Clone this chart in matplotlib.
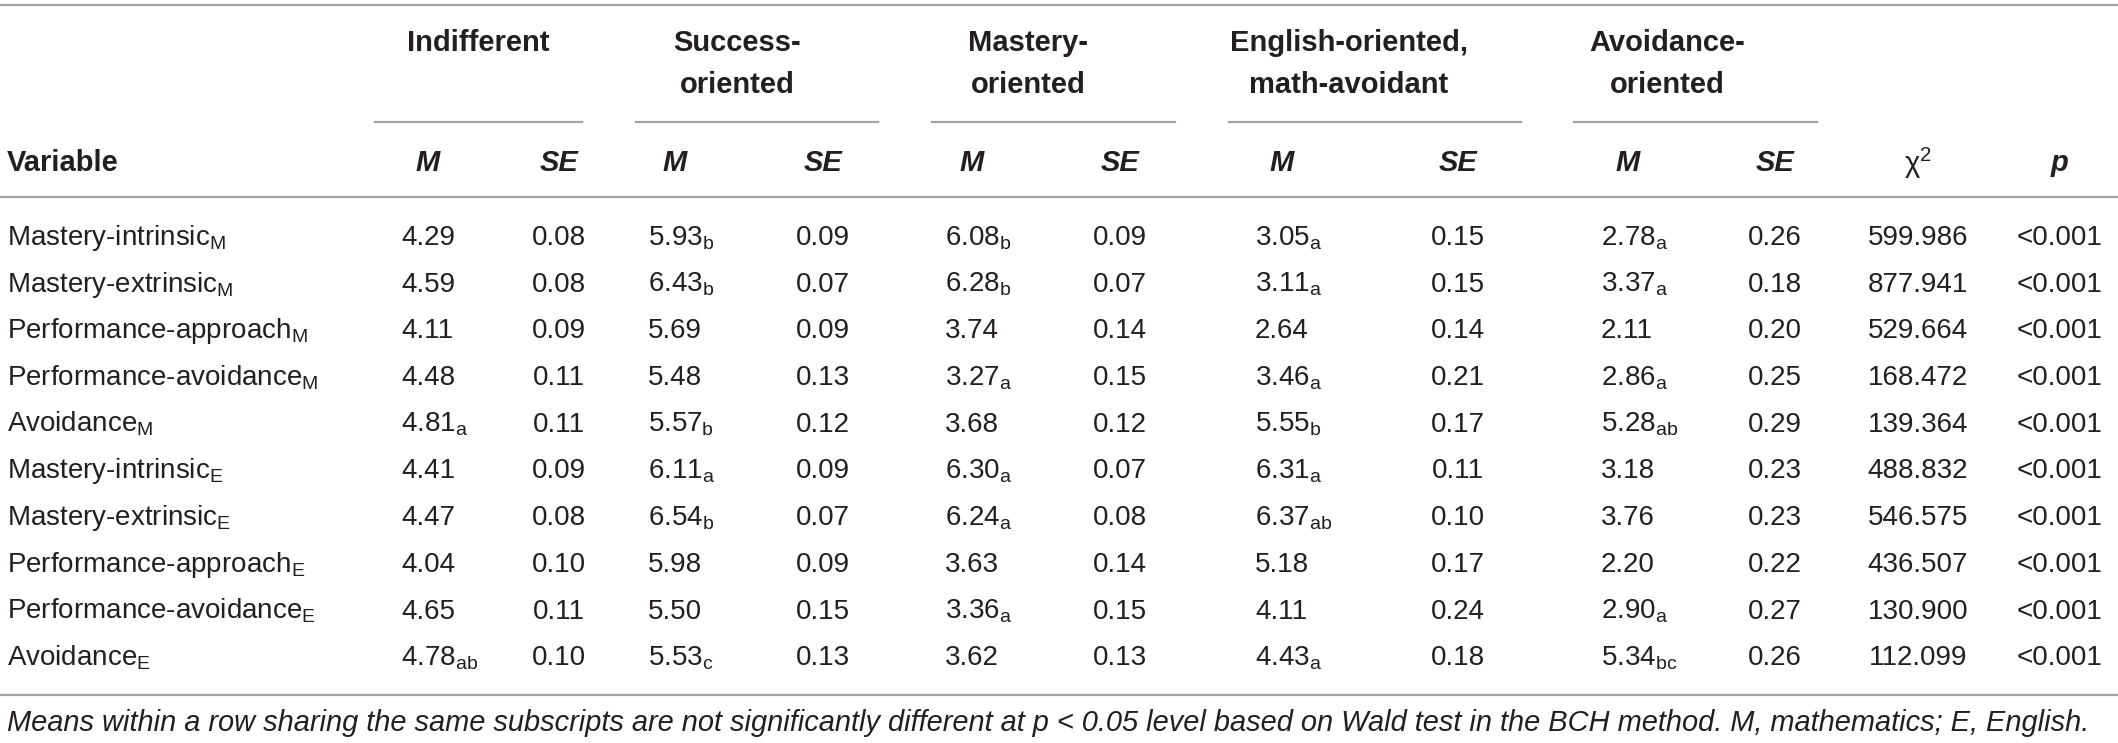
import matplotlib
matplotlib.use('Agg')
import matplotlib.pyplot as plt

plt.rcParams['font.family'] = ['Liberation Sans', 'DejaVu Sans']
plt.rcParams['mathtext.fontset'] = 'custom'
plt.rcParams['mathtext.rm'] = 'Liberation Sans'
plt.rcParams['mathtext.it'] = 'Liberation Sans:italic'
plt.rcParams['mathtext.bf'] = 'Liberation Sans:bold'

# ---- table data ----
variables = ['Mastery-intrinsic', 'Mastery-extrinsic', 'Performance-approach',
             'Performance-avoidance', 'Avoidance',
             'Mastery-intrinsic', 'Mastery-extrinsic', 'Performance-approach',
             'Performance-avoidance', 'Avoidance']
var_sub = ['M', 'M', 'M', 'M', 'M', 'E', 'E', 'E', 'E', 'E']

groups = [['Indifferent'], ['Success-', 'oriented'], ['Mastery-', 'oriented'],
          ['English-oriented,', 'math-avoidant'], ['Avoidance-', 'oriented']]

ind_m = [4.29, 4.59, 4.11, 4.48, 4.81, 4.41, 4.47, 4.04, 4.65, 4.78]
ind_m_sub = ['', '', '', '', 'a', '', '', '', '', 'ab']
ind_se = [0.08, 0.08, 0.09, 0.11, 0.11, 0.09, 0.08, 0.10, 0.11, 0.10]

suc_m = [5.93, 6.43, 5.69, 5.48, 5.57, 6.11, 6.54, 5.98, 5.50, 5.53]
suc_m_sub = ['b', 'b', '', '', 'b', 'a', 'b', '', '', 'c']
suc_se = [0.09, 0.07, 0.09, 0.13, 0.12, 0.09, 0.07, 0.09, 0.15, 0.13]

mas_m = [6.08, 6.28, 3.74, 3.27, 3.68, 6.30, 6.24, 3.63, 3.36, 3.62]
mas_m_sub = ['b', 'b', '', 'a', '', 'a', 'a', '', 'a', '']
mas_se = [0.09, 0.07, 0.14, 0.15, 0.12, 0.07, 0.08, 0.14, 0.15, 0.13]

eng_m = [3.05, 3.11, 2.64, 3.46, 5.55, 6.31, 6.37, 5.18, 4.11, 4.43]
eng_m_sub = ['a', 'a', '', 'a', 'b', 'a', 'ab', '', '', 'a']
eng_se = [0.15, 0.15, 0.14, 0.21, 0.17, 0.11, 0.10, 0.17, 0.24, 0.18]

avo_m = [2.78, 3.37, 2.11, 2.86, 5.28, 3.18, 3.76, 2.20, 2.90, 5.34]
avo_m_sub = ['a', 'a', '', 'a', 'ab', '', '', '', 'a', 'bc']
avo_se = [0.26, 0.18, 0.20, 0.25, 0.29, 0.23, 0.23, 0.22, 0.27, 0.26]

chi2 = [599.986, 877.941, 529.664, 168.472, 139.364,
        488.832, 546.575, 436.507, 130.900, 112.099]
p_vals = ['<0.001'] * 10

footnote = ('Means within a row sharing the same subscripts are not significantly '
            'different at p < 0.05 level based on Wald test in the BCH method. '
            'M, mathematics; E, English.')

means = [(ind_m, ind_m_sub), (suc_m, suc_m_sub), (mas_m, mas_m_sub),
         (eng_m, eng_m_sub), (avo_m, avo_m_sub)]
ses = [ind_se, suc_se, mas_se, eng_se, avo_se]

# ---- layout (pixels) ----
W, H = 2118, 743
m_left = [401, 648, 945, 1255, 1601]
se_ctr = [559, 823, 1120, 1458, 1775]
grp_ctr = [478, 737, 1028, 1349, 1667]
grp_line = [(375, 582), (636, 878), (932, 1175), (1229, 1521), (1574, 1817)]
chi_ctr, p_ctr = 1918, 2060
row_y0, row_dy = 235, 46.7

txt = '#231f20'
line_c = '#a3a3a3'
fs = 20
fs_head = 21

fig = plt.figure(figsize=(W / 100, H / 100), dpi=100)
ax = fig.add_axes([0, 0, 1, 1])
ax.set_xlim(0, W)
ax.set_ylim(H, 0)
ax.axis('off')

# rules
ax.plot([0, W], [5, 5], color=line_c, lw=1.6)
ax.plot([0, W], [197, 197], color=line_c, lw=1.6)
ax.plot([0, W], [695, 695], color=line_c, lw=1.6)
for x0, x1 in grp_line:
    ax.plot([x0, x1], [122, 122], color=line_c, lw=1.6)

# group headers
for g, xc in zip(groups, grp_ctr):
    for k, s in enumerate(g):
        ax.text(xc, 43 + 42 * k, s, ha='center', va='center', fontsize=fs_head,
                fontweight='bold', color=txt)

# column headers
ax.text(7, 163, 'Variable', ha='left', va='center', fontsize=fs_head,
        fontweight='bold', color=txt)
for xm, xs in zip(m_left, se_ctr):
    ax.text(xm + 27, 163, 'M', ha='center', va='center', fontsize=fs_head,
            fontweight='bold', style='italic', color=txt)
    ax.text(xs, 163, 'SE', ha='center', va='center', fontsize=fs_head,
            fontweight='bold', style='italic', color=txt)
ax.text(chi_ctr, 163, r'χ$^\mathregular{2}$', ha='center', va='center',
        fontsize=fs_head, color=txt)
ax.text(p_ctr, 163, 'p', ha='center', va='center', fontsize=fs_head,
        fontweight='bold', style='italic', color=txt)

# body
for i in range(len(variables)):
    y = row_y0 + row_dy * i + 10
    ax.text(7, y, variables[i] + r'$_\mathregular{' + var_sub[i] + '}$',
            ha='left', va='baseline', fontsize=fs, color=txt)
    for (vals, subs), se, xm, xs in zip(means, ses, m_left, se_ctr):
        s = f'{vals[i]:.2f}'
        if subs[i]:
            s += r'$_\mathregular{' + subs[i] + '}$'
        ax.text(xm, y, s, ha='left', va='baseline', fontsize=fs, color=txt)
        ax.text(xs, y, f'{se[i]:.2f}', ha='center', va='baseline',
                fontsize=fs, color=txt)
    ax.text(chi_ctr, y, f'{chi2[i]:.3f}', ha='center', va='baseline',
            fontsize=fs, color=txt)
    ax.text(p_ctr, y, p_vals[i], ha='center', va='baseline',
            fontsize=fs, color=txt)

ax.text(7, 723, footnote, ha='left', va='center', fontsize=20.9,
        style='italic', color=txt)

fig.savefig('out.png', dpi=100)
